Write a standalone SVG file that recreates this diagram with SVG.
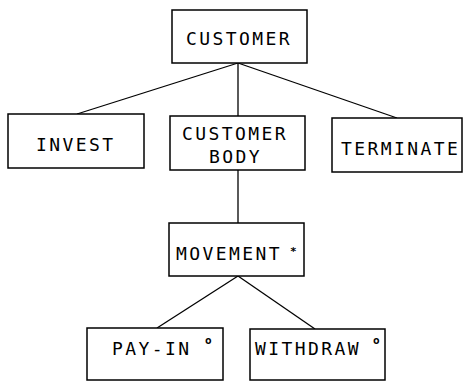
<svg xmlns="http://www.w3.org/2000/svg" width="465" height="382" viewBox="0 0 465 382">
  <style>
    .box { fill: #ffffff; stroke: #000000; stroke-width: 1.5; }
    .link { stroke: #000000; stroke-width: 1.3; fill: none; }
    .lbl { font-family: "DejaVu Sans Mono", "Liberation Mono", monospace; font-size: 18px; letter-spacing: 2.4px; fill: #000000; }
    .mark { font-family: "DejaVu Sans Mono", "Liberation Mono", monospace; font-size: 11px; font-weight: bold; fill: #000000; }
  </style>
  <rect width="465" height="382" fill="#ffffff"/>

  <g id="connectors">
    <line class="link" x1="238" y1="63" x2="77" y2="114"/>
    <line class="link" x1="238" y1="63" x2="238" y2="116"/>
    <line class="link" x1="238" y1="63" x2="397" y2="118"/>
    <line class="link" x1="238" y1="170" x2="238" y2="223"/>
    <line class="link" x1="238" y1="276" x2="157" y2="328"/>
    <line class="link" x1="238" y1="276" x2="315" y2="329"/>
  </g>

  <g id="customer">
    <rect class="box" x="172" y="10" width="135" height="53"/>
    <text class="lbl" x="186" y="45">CUSTOMER</text>
  </g>

  <g id="invest">
    <rect class="box" x="8" y="114" width="136" height="54"/>
    <text class="lbl" x="36" y="151">INVEST</text>
  </g>

  <g id="customer-body">
    <rect class="box" x="170" y="116" width="135" height="54"/>
    <text class="lbl" x="182" y="140">CUSTOMER</text>
    <text class="lbl" x="209" y="163">BODY</text>
  </g>

  <g id="terminate">
    <rect class="box" x="332" y="118" width="130" height="54"/>
    <text class="lbl" x="341" y="155">TERMINATE</text>
  </g>

  <g id="movement">
    <rect class="box" x="169" y="223" width="135" height="53"/>
    <text class="lbl" x="176" y="260">MOVEMENT</text>
    <text class="mark" x="290" y="255">*</text>
  </g>

  <g id="pay-in">
    <rect class="box" x="87" y="328" width="136" height="52"/>
    <text class="lbl" x="112" y="355">PAY-IN</text>
    <text class="mark" x="205" y="344">o</text>
  </g>

  <g id="withdraw">
    <rect class="box" x="250" y="329" width="135" height="51"/>
    <text class="lbl" x="255" y="355">WITHDRAW</text>
    <text class="mark" x="373" y="344">o</text>
  </g>
</svg>
